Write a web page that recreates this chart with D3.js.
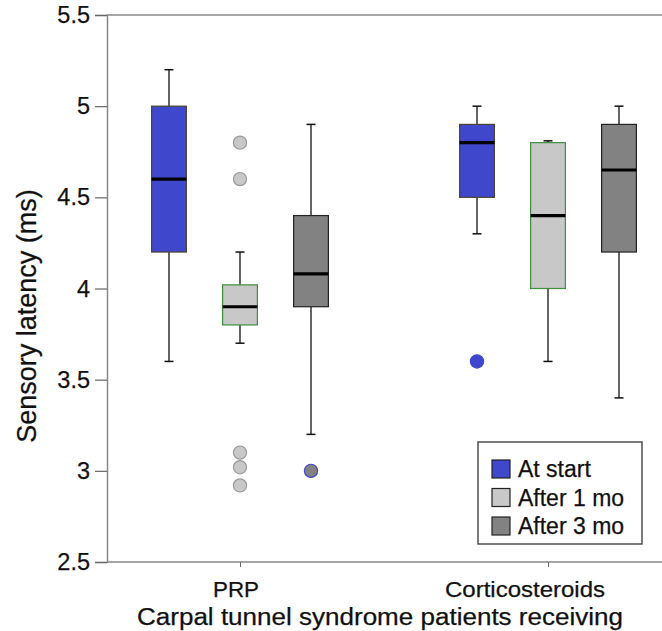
<!DOCTYPE html>
<html><head><meta charset="utf-8">
<script src="https://cdn.jsdelivr.net/npm/d3@7"></script>
<style>body{margin:0;background:#fff}svg{display:block}text{font-family:"Liberation Sans",Arial,sans-serif;fill:#111;stroke:#111;stroke-width:0.25px}</style>
</head><body><svg id="c" width="662" height="631"></svg>
<script>
const groups = ["PRP", "Corticosteroids"];
const series = ["At start", "After 1 mo", "After 3 mo"];
const yTicks = [2.5, 3, 3.5, 4, 4.5, 5, 5.5];
const yTickLabels = ["2.5", "3", "3.5", "4", "4.5", "5", "5.5"];
// per group, per series: [min, q1, median, q3, max]
const prpStats = [[3.6, 4.2, 4.6, 5.0, 5.2], [3.7, 3.8, 3.9, 4.02, 4.2], [3.2, 3.9, 4.08, 4.4, 4.9]];
const corStats = [[4.3, 4.5, 4.8, 4.9, 5.0], [3.6, 4.0, 4.4, 4.8, 4.81], [3.4, 4.2, 4.65, 4.9, 5.0]];
const prpOutliers = [[], [4.8, 4.6, 3.1, 3.02, 2.92], [3.0]];
const corOutliers = [[3.6], [], []];
const fills = ["#3f47cc", "#c8c8c8", "#828282"];
const boxStrokes = ["#4a4430", "#3f8f3f", "#222"];
const outlierStrokes = ["#3f47cc", "#999", "#3f47cc"];

const stats = [prpStats, corStats];
const outliers = [prpOutliers, corOutliers];

const svg = d3.select("#c");
const y = d3.scaleLinear().domain([2.5, 5.5]).range([562, 15]);
const x = d3.scalePoint().domain(groups).range([107, 681]).padding(0.4318);
const xs = d3.scaleBand().domain(series).range([-106.5, 106.5]).paddingInner(0.51).paddingOuter(0.255);
const bw = xs.bandwidth();

// frame line (top)
svg.append("line").attr("x1", 107).attr("x2", 662).attr("y1", y(5.5)).attr("y2", y(5.5)).attr("stroke", "#888").attr("stroke-width", 1.5);

// y axis
const yAxis = svg.append("g").attr("transform", "translate(107,0)")
  .call(d3.axisLeft(y).tickValues(yTicks).tickFormat((d, i) => yTickLabels[i]).tickSize(12).tickPadding(5));
yAxis.select(".domain").attr("stroke", "#888").attr("stroke-width", 1.5);
yAxis.selectAll(".tick line").attr("stroke", "#666").attr("stroke-width", 1.2);
yAxis.selectAll(".tick text").attr("font-size", 23.5).attr("fill", "#111").attr("font-family", "Liberation Sans, Arial, sans-serif");

// x axis
const xAxis = svg.append("g").attr("transform", "translate(0,562)")
  .call(d3.axisBottom(x).tickSize(5).tickFormat(""));
xAxis.select(".domain").attr("d", "M107,0H662").attr("stroke", "#888").attr("stroke-width", 1.5);
xAxis.selectAll(".tick line").attr("stroke", "#666");
const labelShift = [-4, -23];
const labelLen = [46, 160];
svg.selectAll(".cat").data(groups).join("text").attr("class", "cat")
  .attr("x", (d, i) => x(d) + labelShift[i] - labelLen[i] / 2).attr("y", 597)
  .attr("textLength", (d, i) => labelLen[i]).attr("lengthAdjust", "spacingAndGlyphs")
  .attr("font-size", 22).text(d => d);

svg.append("text").attr("x", 137).attr("y", 625).attr("font-size", 23)
  .attr("textLength", 486).attr("lengthAdjust", "spacingAndGlyphs")
  .text("Carpal tunnel syndrome patients receiving");
svg.append("text").attr("transform", "translate(36,316) rotate(-90)").attr("text-anchor", "middle").attr("font-size", 27)
  .text("Sensory latency (ms)");

// boxes
groups.forEach((g, gi) => {
  series.forEach((s, si) => {
    const [mn, q1, md, q3, mx] = stats[gi][si];
    const cx = x(g) + xs(s) + bw / 2;
    const gg = svg.append("g");
    gg.append("line").attr("x1", cx).attr("x2", cx).attr("y1", y(mx)).attr("y2", y(q3)).attr("stroke", "#111").attr("stroke-width", 1.3);
    gg.append("line").attr("x1", cx).attr("x2", cx).attr("y1", y(q1)).attr("y2", y(mn)).attr("stroke", "#111").attr("stroke-width", 1.3);
    [mn, mx].forEach(v => gg.append("line").attr("x1", cx - 4.5).attr("x2", cx + 4.5).attr("y1", y(v)).attr("y2", y(v)).attr("stroke", "#111").attr("stroke-width", 1.5));
    gg.append("rect").attr("x", cx - bw / 2).attr("width", bw).attr("y", y(q3)).attr("height", y(q1) - y(q3))
      .attr("fill", fills[si]).attr("stroke", boxStrokes[si]).attr("stroke-width", 1.2);
    gg.append("line").attr("x1", cx - bw / 2).attr("x2", cx + bw / 2).attr("y1", y(md)).attr("y2", y(md)).attr("stroke", "#000").attr("stroke-width", 3.2);
    gg.selectAll("circle").data(outliers[gi][si]).join("circle")
      .attr("cx", cx).attr("cy", d => y(d)).attr("r", 6.6)
      .attr("fill", fills[si]).attr("stroke", outlierStrokes[si]).attr("stroke-width", 1.2);
  });
});

// legend
const lg = svg.append("g");
lg.append("rect").attr("x", 478).attr("y", 442).attr("width", 164).attr("height", 102).attr("fill", "#fff").attr("stroke", "#444").attr("stroke-width", 1.4);
series.forEach((s, i) => {
  lg.append("rect").attr("x", 492).attr("y", 460 + i * 28.5).attr("width", 18).attr("height", 18)
    .attr("fill", fills[i]).attr("stroke", "#222").attr("stroke-width", 1.2);
  lg.append("text").attr("x", 518).attr("y", 477 + i * 28.5).attr("font-size", 23).text(s);
});
</script></body></html>
